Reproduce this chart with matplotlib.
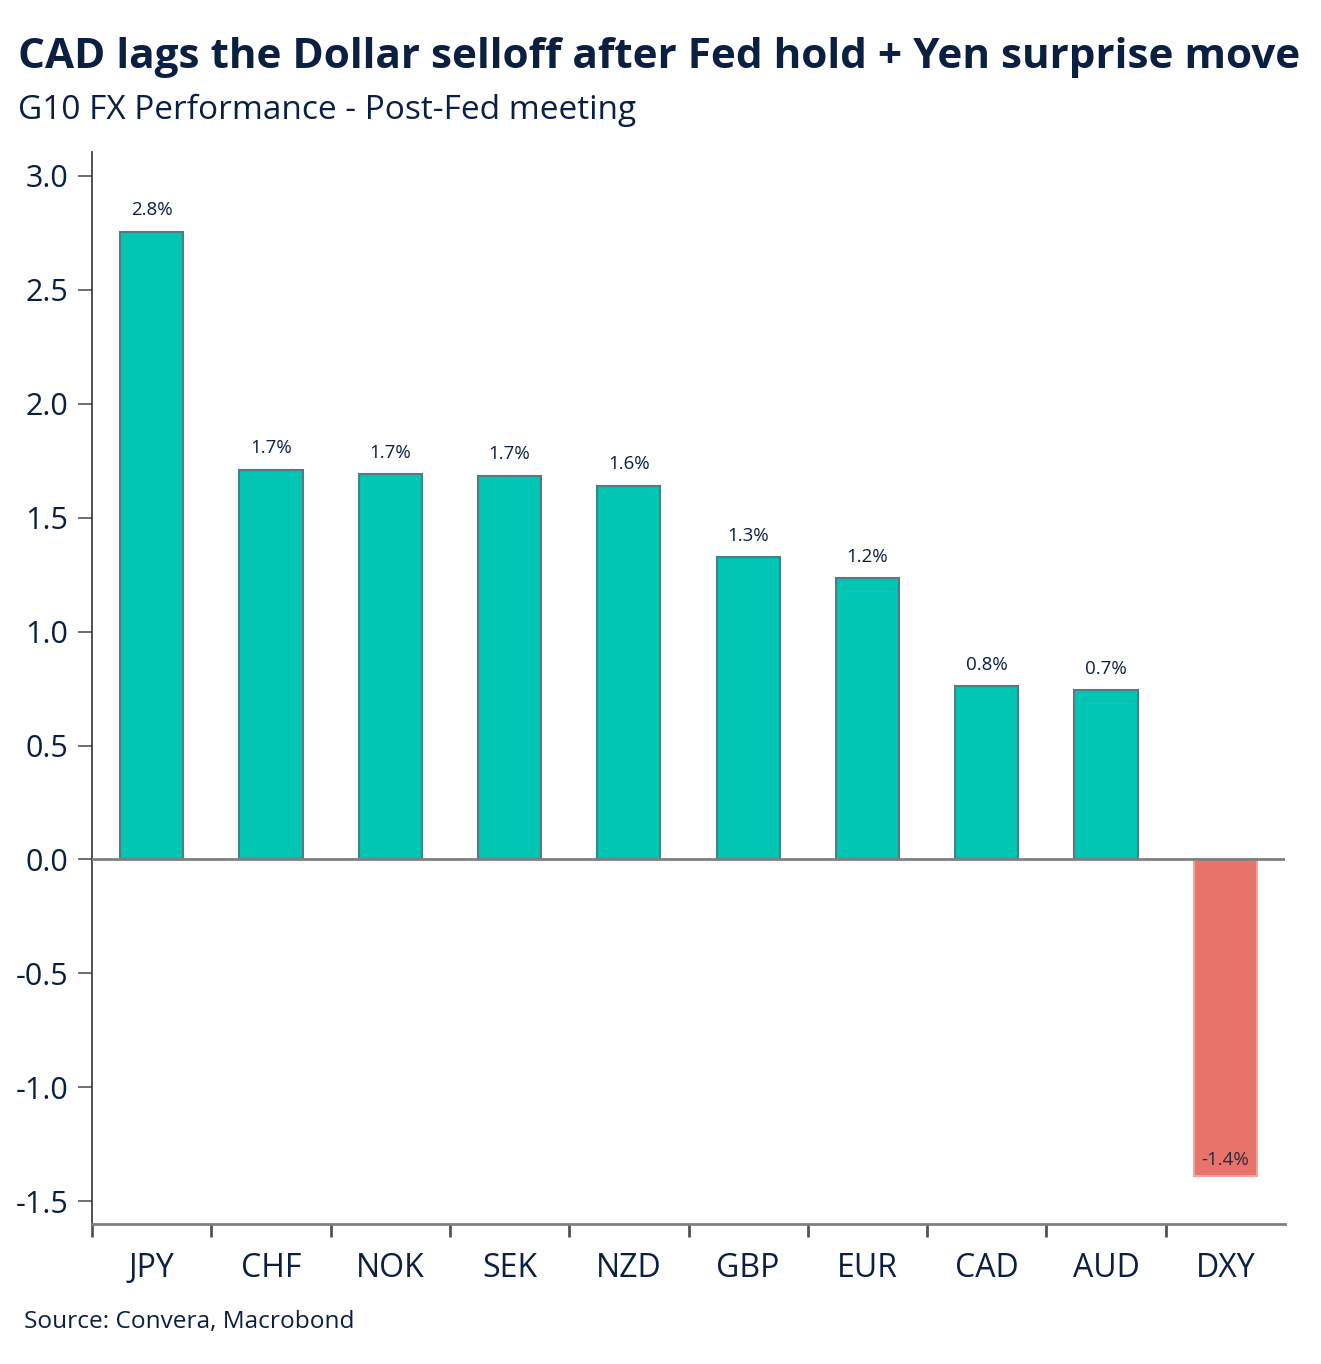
import matplotlib
matplotlib.use("Agg")
import matplotlib.pyplot as plt
import numpy as np

plt.rcParams['font.family'] = ['Open Sans', 'DejaVu Sans']

categories = ["JPY", "CHF", "NOK", "SEK", "NZD", "GBP", "EUR", "CAD", "AUD", "DXY"]
values = [2.755, 1.71, 1.69, 1.685, 1.64, 1.326, 1.234, 0.76, 0.742, -1.388]
yticks = [-1.5, -1.0, -0.5, 0.0, 0.5, 1.0, 1.5, 2.0, 2.5, 3.0]

title = "CAD lags the Dollar selloff after Fed hold + Yen surprise move"
subtitle = "G10 FX Performance - Post-Fed meeting"
source = "Source: Convera, Macrobond"

NAVY = "#0b1f40"
TEAL = "#00c6b3"
RED = "#e8736a"

fig = plt.figure(figsize=(13.21, 13.64), dpi=100)
ax = fig.add_axes([0.0696, 0.1026, 0.9032, 0.786])

x = np.arange(len(categories))
colors = [TEAL if v >= 0 else RED for v in values]
edges = ["#4d7d85" if v >= 0 else "#f2a49c" for v in values]
bars = ax.bar(x, values, width=0.53, color=colors, edgecolor=edges, linewidth=1.5, zorder=2)

ax.axhline(0, color="#808080", linewidth=2, zorder=3)

for xi, v in zip(x, values):
    lab = f"{v:.1f}%"
    if v >= 0:
        ax.annotate(lab, (xi, v), xytext=(0, 9), textcoords="offset points",
                    ha="center", va="bottom", fontsize=13.5, color=NAVY)
    else:
        ax.annotate(lab, (xi, v), xytext=(0, 5), textcoords="offset points",
                    ha="center", va="bottom", fontsize=13.5, color="#2a2a3a")

ax.set_xlim(-0.5, len(categories) - 0.5)
ax.set_ylim(-1.6, 3.105)
ax.set_yticks(yticks)
ax.set_yticklabels([f"{t:.1f}" for t in yticks])
ax.set_xticks(x)
ax.set_xticklabels(categories)
ax.set_xticks(np.arange(-0.5, len(categories) - 1, 1.0), minor=True)

ax.tick_params(axis="x", which="major", length=0, pad=20, labelsize=23, labelcolor=NAVY)
ax.tick_params(axis="x", which="minor", length=9, width=2, color="#555555", direction="out")
ax.tick_params(axis="y", which="major", length=10, width=1.2, color="#555555",
               labelsize=22, labelcolor=NAVY, pad=7)

for s in ["top", "right"]:
    ax.spines[s].set_visible(False)
ax.spines["left"].set_color("#333333")
ax.spines["left"].set_linewidth(1.2)
ax.spines["bottom"].set_color("#808080")
ax.spines["bottom"].set_linewidth(2)

fig.text(0.0136, 0.958, title, fontsize=30.4, fontweight="bold", color=NAVY, ha="left", va="center")
fig.text(0.0136, 0.919, subtitle, fontsize=24, color=NAVY, ha="left", va="center")
fig.text(0.018, 0.031, source, fontsize=17.6, color=NAVY, ha="left", va="center")

fig.savefig("out.png", dpi=100)
